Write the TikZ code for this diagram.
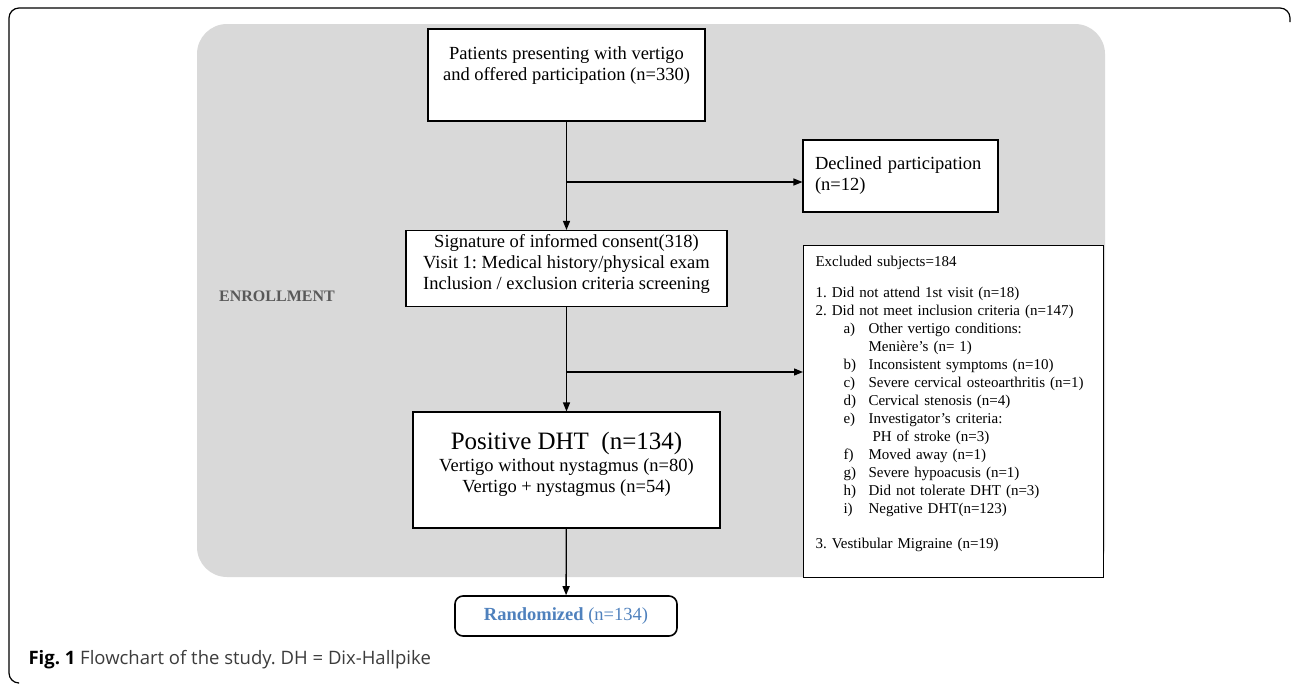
\documentclass[tikz,border=0pt]{standalone}
\usepackage{fontspec}
\setmainfont{Liberation Serif}
\newfontfamily\captionfont{Open Sans}
\usepackage{xcolor}
\definecolor{panelgrey}{RGB}{217,217,217}
\definecolor{randblue}{RGB}{79,129,189}
\definecolor{labelgrey}{RGB}{89,89,89}
\definecolor{captext}{RGB}{60,60,60}
\usepackage{tikz}
\usetikzlibrary{
  arrows.meta, positioning, calc
}
\frenchspacing

\newcommand{\exitem}[2]{\hspace*{28pt}\makebox[25pt][l]{#1}#2}

\tikzset{
  flowbox/.style={draw=black, line width=1.1pt, fill=white, align=center,
    inner sep=4pt, font=\fontsize{18.5}{21}\selectfont},
  sidebox/.style={draw=black, line width=1.1pt, fill=white, align=left,
    inner xsep=12pt, inner ysep=8pt, anchor=north west},
  flowarrow/.style={line width=1.3pt, -{Triangle[length=9pt,width=7pt]}}
}

\begin{document}
\begin{tikzpicture}[x=1pt, y=-1pt]
    \useasboundingbox (0,0) rectangle (1293,683);
    % frame and enrollment panel
    \draw[line width=1.2pt, rounded corners=10pt] (1290,22) -- (1290,8) -- (9,8) -- (9,683) -- (18,683);
    \fill[panelgrey, rounded corners=30pt] (197,24) rectangle (1105,577);
    \node[font=\fontsize{16}{19}\selectfont\bfseries, text=labelgrey] (enroll) at (277,296) {ENROLLMENT};

    % main column
    \node[flowbox, minimum width=277pt, minimum height=92pt] (patients) at (566.5,75)
      {Patients presenting with vertigo\\and offered participation (n=330)\\[2pt]\mbox{}};
    \node[flowbox, minimum width=321pt, minimum height=73pt] (consent) at (566.5,268.5)
      {Signature of informed consent(318)\\Visit 1: Medical history/physical exam\\Inclusion / exclusion criteria screening\\[-8pt]\mbox{}};
    \node[flowbox, minimum width=307pt, minimum height=116pt] (positive) at (566.5,470)
      {{\fontsize{25}{28}\selectfont Positive DHT\ \ (n=134)}\\[1pt]Vertigo without nystagmus (n=80)\\Vertigo + nystagmus (n=54)\\[-6pt]\mbox{}};
    \node[draw, line width=1.6pt, rounded corners=8pt, minimum width=222pt, minimum height=40pt,
      font=\fontsize{18.5}{21}\selectfont, text=randblue] (random) at (566,616) {\textbf{Randomized} (n=134)};

    % side boxes
    \node[flowbox, align=left, text width=171pt, inner xsep=12pt, minimum height=72pt] (declined) at (900.5,176)
      {Declined participation\\(n=12)};
    \node[sidebox, text width=276pt, minimum height=332pt, font=\fontsize{15}{18}\selectfont] (excluded) at (803,245)
      {Excluded subjects=184\\[13pt]
       1. Did not attend 1st visit (n=18)\\
       2. Did not meet inclusion criteria (n=147)\\
       \exitem{a)}{Other vertigo conditions:}\\
       \hspace*{53pt}Menière's (n= 1)\\
       \exitem{b)}{Inconsistent symptoms (n=10)}\\
       \exitem{c)}{Severe cervical osteoarthritis (n=1)}\\
       \exitem{d)}{Cervical stenosis (n=4)}\\
       \exitem{e)}{Investigator's criteria:}\\
       \hspace*{57pt}PH of stroke (n=3)\\
       \exitem{f)}{Moved away (n=1)}\\
       \exitem{g)}{Severe hypoacusis (n=1)}\\
       \exitem{h)}{Did not tolerate DHT (n=3)}\\
       \exitem{i)}{Negative DHT(n=123)}\\[17pt]
       3. Vestibular Migraine (n=19)\\\mbox{}};

    % connectors
    \coordinate (split1) at (566.5,182);
    \coordinate (split2) at (566.5,372);
    \draw[flowarrow] (patients) -- (consent);
    \draw[flowarrow] (split1) -- (split1 -| declined.west);
    \draw[flowarrow] (consent) -- (positive);
    \draw[flowarrow] (split2) -- (split2 -| excluded.west);
    \draw[flowarrow] (positive) -- (random);

    \node[anchor=west, font=\captionfont\fontsize{18.5}{22}\selectfont, text=captext] (caption) at (25,660)
      {{\color{black}\textbf{Fig. 1}} Flowchart of the study. DH = Dix-Hallpike};
\end{tikzpicture}
\end{document}
